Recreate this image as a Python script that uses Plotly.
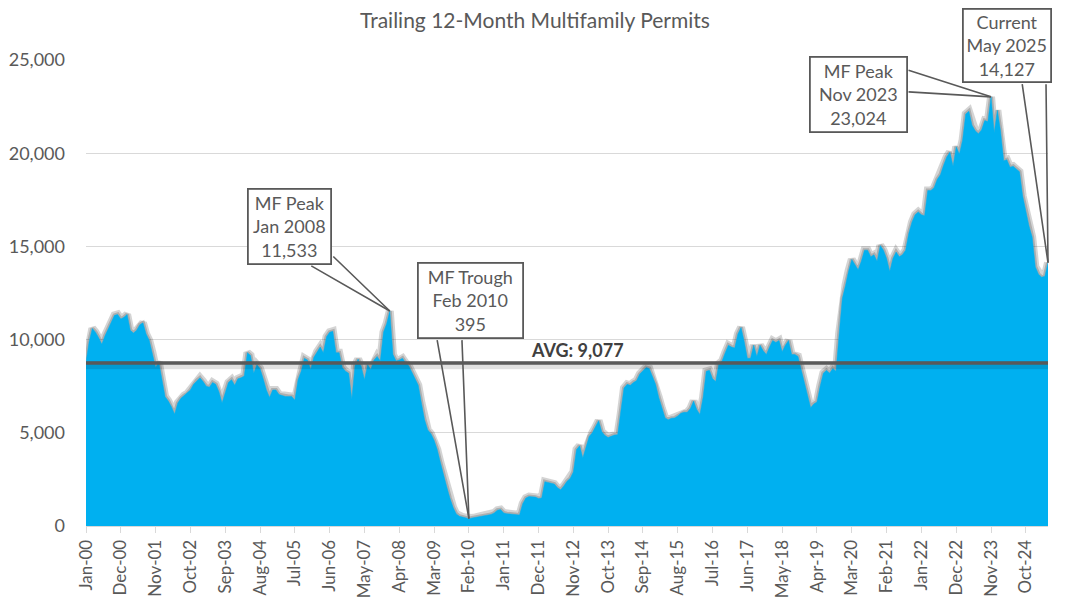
import plotly.graph_objects as go

# Données mensuelles (permis multifamiliaux, cumul 12 mois), Jan-2000 -> May-2025
mois_noms = ["Jan", "Feb", "Mar", "Apr", "May", "Jun", "Jul", "Aug", "Sep", "Oct", "Nov", "Dec"]
mois = [f"{m}-{a % 100:02d}" for a in range(2000, 2026) for m in mois_noms][:305]

permis = [
    # 2000
    8800, 9900, 10600, 10400, 10100, 9750, 10200, 10600, 11000, 11300, 11350, 11100,
    # 2001
    11200, 11350, 10500, 10350, 10500, 10800, 10900, 10300, 9950, 9300, 8500, 8800,
    # 2002
    7900, 6940, 6700, 6400, 6000, 6600, 6850, 7000, 7100, 7300, 7600, 7800,
    # 2003
    7950, 7750, 7500, 7450, 7700, 7600, 7200, 6600, 7200, 7700, 7850, 7550,
    # 2004
    7900, 7950, 8050, 9300, 9150, 8200, 8650, 8450, 7900, 7300, 6900, 7300,
    # 2005
    7300, 7050, 7000, 6950, 6950, 6950, 6750, 7850, 8300, 9000, 8900, 8400,
    # 2006
    9050, 9350, 9600, 9300, 10150, 10400, 10450, 9300, 9300, 8500, 8300, 8200,
    # 2007
    6800, 8600, 8950, 8550, 7850, 8650, 8400, 8900, 9100, 8850, 10400, 10850,
    # 2008
    11533, 9200, 8850, 8900, 9000, 8750, 8600, 8250, 7850, 7550, 6600, 5700,
    # 2009
    5150, 4950, 4600, 4100, 3400, 2700, 2100, 1500, 1000, 650, 520, 480,
    # 2010
    450, 395, 430, 460, 500, 530, 560, 580, 620, 700, 850, 880,
    # 2011
    700, 660, 640, 610, 600, 590, 1200, 1500, 1580, 1570, 1550, 1480,
    # 2012
    1500, 2380, 2350, 2300, 2250, 2050, 1950, 2150, 2400, 2550, 2900, 4100,
    # 2013
    4300, 3650, 4200, 4800, 5000, 5300, 5650, 5050, 4850, 4750, 4820, 4880,
    # 2014
    4900, 6050, 7400, 7600, 7550, 7700, 7800, 8150, 8350, 8500, 8450, 8000,
    # 2015
    7600, 6900, 6300, 5800, 5700, 5780, 5800, 5900, 6050, 6100, 6100, 6300,
    # 2016
    6700, 6250, 5980, 6900, 8300, 8350, 7900, 7750, 8700, 8850, 9300, 9700,
    # 2017
    9600, 9550, 10300, 10650, 9900, 9000, 9000, 9700, 9100, 9700, 9400, 9200,
    # 2018
    9600, 9950, 9850, 9950, 9350, 9700, 9950, 9200, 9200, 9100, 8400, 7700,
    # 2019
    7000, 6350, 6550, 6650, 7500, 8200, 8350, 8200, 8450, 8300, 10300, 12200,
    # 2020
    12900, 13700, 14300, 14000, 13750, 14200, 14800, 14800, 14450, 14550, 14200, 15050,
    # 2021
    14800, 14350, 13650, 14350, 14700, 14450, 14550, 14800, 15700, 16300, 16700, 16850,
    # 2022
    16700, 16650, 18000, 18000, 18150, 18600, 18850, 19350, 19800, 20050, 19300, 20350,
    # 2023
    19950, 20700, 22100, 22250, 21500, 21200, 21050, 21250, 21750, 21700, 23024, 21100,
    # 2024
    22300, 21200, 19600, 19650, 19250, 19300, 19150, 19000, 17700, 16900, 16100, 15500,
    # 2025
    13900, 13500, 13350, 13400, 14127,
]

niveau_moyenne = 8750
texte_moyenne = "AVG: 9,077"
graduations = mois[::11]

gris = "#595959"
police = "Lato"

fig = go.Figure()

# ombre sous le bord de l'aire
fig.add_trace(go.Scatter(
    x=mois, y=permis, mode="lines",
    line=dict(color="rgba(60,60,60,0.22)", width=8),
    hoverinfo="skip", showlegend=False,
))
fig.add_trace(go.Scatter(
    x=mois, y=permis, mode="lines",
    line=dict(color="rgba(60,60,60,0.25)", width=4),
    hoverinfo="skip", showlegend=False,
))

fig.add_trace(go.Scatter(
    x=mois, y=permis, mode="lines", fill="tozeroy",
    fillcolor="#00B0F0", line=dict(color="#00B0F0", width=0.5),
    showlegend=False,
))

# ligne de moyenne
fig.add_trace(go.Scatter(
    x=[mois[0], mois[-1]], y=[niveau_moyenne - 130, niveau_moyenne - 130], mode="lines",
    line=dict(color="rgba(0,0,0,0.12)", width=8),
    hoverinfo="skip", showlegend=False,
))
fig.add_trace(go.Scatter(
    x=[mois[0], mois[-1]], y=[niveau_moyenne, niveau_moyenne], mode="lines",
    line=dict(color=gris, width=3.5),
    hoverinfo="skip", showlegend=False,
))

fig.add_annotation(
    xref="paper", x=0.511, y=niveau_moyenne, yshift=13,
    text="<b>" + texte_moyenne + "</b>", showarrow=False,
    font=dict(family=police, size=18, color="#404040"),
)

# bulles d'annotation
bulles = [
    # index, texte, décalage boîte, base du triangle (deux points), largeur, hauteur
    (96, "MF Peak<br>Jan 2008<br>11,533", (-100, -85), [(-80, -46), (-58, -56)], 79, 71),
    (121, "MF Trough<br>Feb 2010<br>395", (2, -218), [(-32, -180), (-7, -180)], 101, 71),
    (286, "MF Peak<br>Nov 2023<br>23,024", (-133, -2), [(-84, -27), (-84, -5)], 93, 71),
    (304, "Current<br>May 2025<br>14,127", (-41, -217), [(-26, -180), (-2, -180)], 84, 69),
]

for idx, texte, (ax, ay), base, larg, haut in bulles:
    for bx, by in base:
        fig.add_annotation(
            x=mois[idx], y=permis[idx], ax=bx, ay=by, text="",
            showarrow=True, arrowhead=0, arrowwidth=1.6, arrowcolor=gris,
        )
    fig.add_annotation(
        x=mois[idx], y=permis[idx], ax=ax, ay=ay, text=texte,
        showarrow=True, arrowcolor="rgba(0,0,0,0)", arrowwidth=0.1,
        font=dict(family=police, size=18, color=gris),
        bgcolor="white", bordercolor=gris, borderwidth=1.8, borderpad=1,
        width=larg, height=haut,
    )

# la page ajoute une marge de 8 px : figure réduite d'autant
fig.update_layout(
    width=1054, height=595,
    margin=dict(l=78, r=14, t=52, b=77),
    paper_bgcolor="white", plot_bgcolor="white",
    title=dict(
        text="Trailing 12-Month Multifamily Permits",
        x=0.5, xanchor="center", y=0.978, yanchor="middle",
        font=dict(family=police, size=21, color=gris),
    ),
    font=dict(family=police, color=gris),
    xaxis=dict(
        type="category", range=[0, len(mois) - 1],
        tickmode="array", tickvals=graduations, ticktext=graduations,
        tickangle=-90, tickfont=dict(size=17, color=gris),
        ticks="outside", ticklen=6, tickcolor="#d9d9d9",
        showline=True, linecolor="#d9d9d9", linewidth=1,
        showgrid=False, automargin=False,
    ),
    yaxis=dict(
        range=[0, 25000], dtick=5000, tickformat=",",
        tickfont=dict(size=18, color=gris),
        showgrid=True, gridcolor="#d9d9d9", gridwidth=1,
        zeroline=False, ticklabelstandoff=20, automargin=False,
    ),
)

fig.write_html("out.html")
